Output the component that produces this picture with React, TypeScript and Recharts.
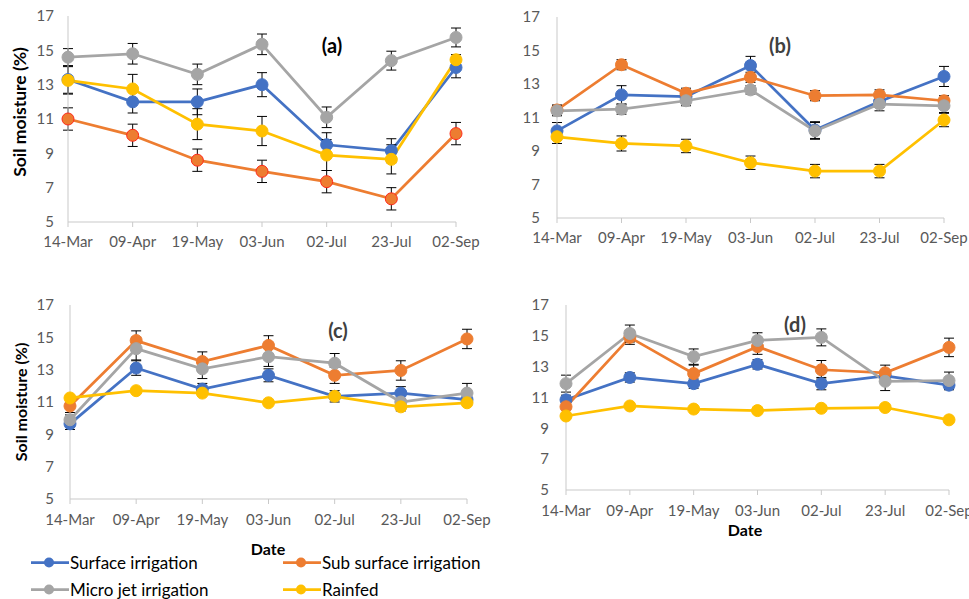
import React from "react";
import { LineChart, Line, XAxis, YAxis, ErrorBar } from "recharts";

const dates = ["14-Mar", "09-Apr", "19-May", "03-Jun", "02-Jul", "23-Jul", "02-Sep"];
const yTicks = [5, 7, 9, 11, 13, 15, 17];

// panel (a)
const surfaceA = [13.3, 12.0, 12.0, 13.0, 9.5, 9.15, 14.0];
const subSurfaceA = [11.0, 10.05, 8.6, 7.95, 7.35, 6.35, 10.15];
const microJetA = [14.6, 14.8, 13.6, 15.35, 11.1, 14.4, 15.75];
const rainfedA = [13.25, 12.75, 10.7, 10.3, 8.9, 8.65, 14.45];
const surfaceErrA = [0.8, 0.65, 0.75, 0.7, 0.7, 0.7, 0.6];
const subSurfaceErrA = [0.65, 0.65, 0.65, 0.65, 0.65, 0.65, 0.65];
const microJetErrA = [0.5, 0.6, 0.6, 0.6, 0.6, 0.55, 0.55];
const rainfedErrA = [0.8, 0.85, 0.9, 0.85, 0.9, 0.85, 0.3];

// panel (b)
const surfaceB = [10.2, 12.35, 12.25, 14.1, 10.25, 11.95, 13.45];
const subSurfaceB = [11.45, 14.15, 12.45, 13.4, 12.3, 12.35, 12.0];
const microJetB = [11.4, 11.5, 12.0, 12.65, 10.2, 11.8, 11.7];
const rainfedB = [9.85, 9.45, 9.3, 8.3, 7.8, 7.8, 10.85];
const surfaceErrB = [0.5, 0.55, 0.3, 0.55, 0.5, 0.35, 0.6];
const subSurfaceErrB = [0.3, 0.3, 0.3, 0.3, 0.3, 0.3, 0.3];
const microJetErrB = [0.3, 0.3, 0.3, 0.25, 0.5, 0.4, 0.4];
const rainfedErrB = [0.4, 0.45, 0.4, 0.4, 0.4, 0.4, 0.4];

// panel (c)
const surfaceC = [9.65, 13.1, 11.8, 12.65, 11.35, 11.55, 11.15];
const subSurfaceC = [10.75, 14.8, 13.5, 14.5, 12.65, 12.95, 14.9];
const microJetC = [9.9, 14.3, 13.05, 13.8, 13.4, 11.0, 11.55];
const rainfedC = [11.25, 11.7, 11.55, 10.95, 11.35, 10.7, 10.95];
const surfaceErrC = [0.35, 0.45, 0.35, 0.4, 0.35, 0.4, 0.3];
const subSurfaceErrC = [0.4, 0.6, 0.6, 0.6, 0.5, 0.6, 0.6];
const microJetErrC = [0.3, 0.7, 0.6, 0.6, 0.6, 0.2, 0.6];
const rainfedErrC = [0.1, 0.1, 0.1, 0.1, 0.15, 0.25, 0.1];

// panel (d)
const surfaceD = [10.85, 12.3, 11.9, 13.15, 11.9, 12.4, 11.8];
const subSurfaceD = [10.4, 14.9, 12.55, 14.3, 12.8, 12.6, 14.25];
const microJetD = [11.9, 15.15, 13.65, 14.7, 14.9, 12.05, 12.1];
const rainfedD = [9.8, 10.45, 10.25, 10.15, 10.3, 10.35, 9.55];
const surfaceErrD = [0.3, 0.3, 0.3, 0.3, 0.4, 0.3, 0.3];
const subSurfaceErrD = [0.5, 0.45, 0.55, 0.5, 0.6, 0.5, 0.6];
const microJetErrD = [0.55, 0.55, 0.5, 0.5, 0.55, 0.6, 0.55];
const rainfedErrD = [0.1, 0.1, 0.1, 0.1, 0.1, 0.1, 0.1];

const seriesNames = ["Surface irrigation", "Sub surface irrigation", "Micro jet irrigation", "Rainfed"];
const seriesKeys = ["s", "ss", "m", "r"];
const colors = ["#4472C4", "#ED7D31", "#A5A5A5", "#FFC000"];

const FONT = "Lato, 'Open Sans', sans-serif";

function buildRows(vals: number[][], errs: number[][]) {
  return dates.map((d, i) => {
    const row: Record<string, any> = { date: d };
    seriesKeys.forEach((k, j) => {
      row[k] = vals[j][i];
      row[k + "Err"] = errs[j][i];
    });
    return row;
  });
}

interface PanelProps {
  rows: Record<string, any>[];
  left: number;
  top: number;
  width: number;
  height: number;
  margin: { top: number; right: number; bottom: number; left: number };
  yWidth: number;
  yTickMargin: number;
  xTickMargin: number;
  orangeStroke?: string;
}

function Panel(p: PanelProps) {
  return (
    <div style={{ position: "absolute", left: p.left, top: p.top }}>
      <LineChart width={p.width} height={p.height} data={p.rows} margin={p.margin}>
        <XAxis
          dataKey="date"
          axisLine={{ stroke: "#c9c9c9" }}
          tickLine={{ stroke: "#c9c9c9" }}
          tickSize={5}
          tickMargin={p.xTickMargin}
          height={30}
          interval={0}
          tick={{ fill: "#595959", fontSize: 15, fontFamily: FONT }}
        />
        <XAxis
          xAxisId="top"
          dataKey="date"
          orientation="top"
          height={0}
          tick={false}
          tickLine={false}
          axisLine={{ stroke: "#3a3a3a" }}
        />
        <YAxis
          domain={[5, 17]}
          ticks={yTicks}
          width={p.yWidth}
          axisLine={{ stroke: "#c9c9c9" }}
          tickLine={false}
          tickSize={0}
          tickMargin={p.yTickMargin}
          tick={{ fill: "#595959", fontSize: 15, fontFamily: FONT }}
        />
        <YAxis
          yAxisId="right"
          orientation="right"
          domain={[5, 17]}
          width={0}
          tick={false}
          tickLine={false}
          axisLine={{ stroke: "#3a3a3a" }}
        />
        {seriesKeys.map((k, j) => (
          <Line
            key={k}
            type="linear"
            dataKey={k}
            stroke={colors[j]}
            strokeWidth={2.75}
            dot={{
              r: 6,
              fill: colors[j],
              stroke: j === 1 && p.orangeStroke ? p.orangeStroke : colors[j],
              strokeWidth: 1,
            }}
            isAnimationActive={false}
          >
            <ErrorBar dataKey={k + "Err"} width={5} stroke="#000" strokeWidth={1} direction="y" isAnimationActive={false} />
          </Line>
        ))}
      </LineChart>
    </div>
  );
}

function PanelLabel({ text, x, y, color }: { text: string; x: number; y: number; color: string }) {
  return (
    <div
      style={{
        position: "absolute",
        left: x,
        top: y,
        transform: "translate(-50%, -50%)",
        fontFamily: FONT,
        fontWeight: 700,
        fontSize: 20,
        color,
        whiteSpace: "nowrap",
      }}
    >
      {text}
    </div>
  );
}

function AxisTitle({ text, x, y, size, rotate }: { text: string; x: number; y: number; size: number; rotate?: boolean }) {
  return (
    <div
      style={{
        position: "absolute",
        left: x,
        top: y,
        transform: `translate(-50%, -50%)${rotate ? " rotate(-90deg)" : ""}`,
        fontFamily: FONT,
        fontWeight: 700,
        fontSize: size,
        color: "#000",
        whiteSpace: "nowrap",
      }}
    >
      {text}
    </div>
  );
}

function LegendItem({ idx, x, y }: { idx: number; x: number; y: number }) {
  return (
    <div style={{ position: "absolute", left: x, top: y, display: "flex", alignItems: "center", transform: "translateY(-50%)" }}>
      <svg width={38} height={14}>
        <line x1={0} y1={7} x2={38} y2={7} stroke={colors[idx]} strokeWidth={2.75} />
        <circle cx={18} cy={7} r={5} fill={colors[idx]} />
      </svg>
      <span style={{ fontFamily: FONT, fontSize: 17, color: "#000", marginLeft: 1, whiteSpace: "nowrap" }}>
        {seriesNames[idx]}
      </span>
    </div>
  );
}

export default function App() {
  const rowsA = buildRows([surfaceA, subSurfaceA, microJetA, rainfedA], [surfaceErrA, subSurfaceErrA, microJetErrA, rainfedErrA]);
  const rowsB = buildRows([surfaceB, subSurfaceB, microJetB, rainfedB], [surfaceErrB, subSurfaceErrB, microJetErrB, rainfedErrB]);
  const rowsC = buildRows([surfaceC, subSurfaceC, microJetC, rainfedC], [surfaceErrC, subSurfaceErrC, microJetErrC, rainfedErrC]);
  const rowsD = buildRows([surfaceD, subSurfaceD, microJetD, rainfedD], [surfaceErrD, subSurfaceErrD, microJetErrD, rainfedErrD]);

  return (
    <div style={{ position: "absolute", left: 0, top: 0, width: 969, height: 599, overflow: "hidden", background: "#fff" }}>
      <Panel rows={rowsA} left={0} top={0} width={490} height={252}
        margin={{ top: 16, right: 34, bottom: 0, left: 0 }} yWidth={68} yTickMargin={14} xTickMargin={9} orangeStroke="#ff2a1a" />
      <Panel rows={rowsB} left={480} top={0} width={489} height={248}
        margin={{ top: 17, right: 25, bottom: 0, left: 0 }} yWidth={77} yTickMargin={17} xTickMargin={9} />
      <Panel rows={rowsC} left={0} top={260} width={500} height={269}
        margin={{ top: 45, right: 33, bottom: 0, left: 0 }} yWidth={70} yTickMargin={16} xTickMargin={10} />
      <Panel rows={rowsD} left={480} top={260} width={489} height={260}
        margin={{ top: 45, right: 20, bottom: 0, left: 0 }} yWidth={86} yTickMargin={17} xTickMargin={10} />

      <PanelLabel text="(a)" x={332} y={45} color="#000" />
      <PanelLabel text="(b)" x={780} y={45} color="#404040" />
      <PanelLabel text="(c)" x={338} y={330} color="#404040" />
      <PanelLabel text="(d)" x={795} y={324} color="#404040" />

      <AxisTitle text="Soil moisture (%)" x={19} y={112} size={17.5} rotate />
      <AxisTitle text="Soil moisture (%)" x={20} y={402} size={16} rotate />
      <AxisTitle text="Date" x={268} y={548} size={16} />
      <AxisTitle text="Date" x={745} y={529} size={16} />

      <LegendItem idx={0} x={31} y={562} />
      <LegendItem idx={1} x={283} y={562} />
      <LegendItem idx={2} x={31} y={589} />
      <LegendItem idx={3} x={283} y={589} />
    </div>
  );
}
